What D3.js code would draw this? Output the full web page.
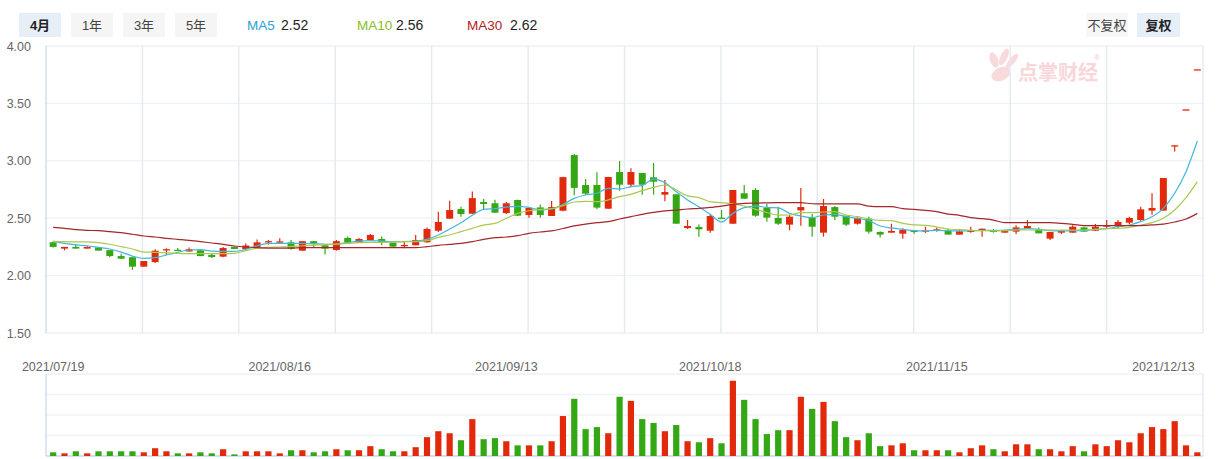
<!DOCTYPE html>
<html><head><meta charset="utf-8">
<script src="https://cdn.jsdelivr.net/npm/d3@7"></script>
<style>
body{margin:0;background:#fff;}
svg text{font-family:"Liberation Sans",Arial,"Noto Sans CJK SC",sans-serif;}
</style>
</head><body>
<svg id="chart" width="1231" height="459"></svg>
<script>
const dates = [
"2021/07/19","2021/07/20","2021/07/21","2021/07/22","2021/07/23","2021/07/26","2021/07/27","2021/07/28","2021/07/29","2021/07/30",
"2021/08/02","2021/08/03","2021/08/04","2021/08/05","2021/08/06","2021/08/09","2021/08/10","2021/08/11","2021/08/12","2021/08/13",
"2021/08/16","2021/08/17","2021/08/18","2021/08/19","2021/08/20","2021/08/23","2021/08/24","2021/08/25","2021/08/26","2021/08/27",
"2021/08/30","2021/08/31","2021/09/01","2021/09/02","2021/09/03","2021/09/06","2021/09/07","2021/09/08","2021/09/09","2021/09/10",
"2021/09/13","2021/09/14","2021/09/15","2021/09/16","2021/09/17","2021/09/22","2021/09/23","2021/09/24","2021/09/27","2021/09/28",
"2021/09/29","2021/09/30","2021/10/08","2021/10/11","2021/10/12","2021/10/13","2021/10/14","2021/10/15","2021/10/18","2021/10/19",
"2021/10/20","2021/10/21","2021/10/22","2021/10/25","2021/10/26","2021/10/27","2021/10/28","2021/10/29","2021/11/01","2021/11/02",
"2021/11/03","2021/11/04","2021/11/05","2021/11/08","2021/11/09","2021/11/10","2021/11/11","2021/11/12","2021/11/15","2021/11/16",
"2021/11/17","2021/11/18","2021/11/19","2021/11/22","2021/11/23","2021/11/24","2021/11/25","2021/11/26","2021/11/29","2021/11/30",
"2021/12/01","2021/12/02","2021/12/03","2021/12/06","2021/12/07","2021/12/08","2021/12/09","2021/12/10","2021/12/13","2021/12/14",
"2021/12/15","2021/12/16"];

const openP = [
2.29,2.235,2.25,2.235,2.245,2.222,2.17,2.16,2.078,2.118,
2.225,2.225,2.21,2.22,2.18,2.165,2.25,2.23,2.245,2.29,
2.288,2.29,2.217,2.30,2.264,2.223,2.328,2.287,2.31,2.319,
2.287,2.258,2.264,2.29,2.391,2.496,2.58,2.539,2.641,2.63,
2.545,2.659,2.528,2.594,2.519,2.565,3.05,2.789,2.789,2.583,
2.902,2.792,2.894,2.856,2.705,2.708,2.414,2.423,2.391,2.505,
2.452,2.717,2.746,2.592,2.502,2.444,2.568,2.502,2.374,2.597,
2.522,2.452,2.496,2.380,2.374,2.365,2.391,2.383,2.391,2.391,
2.357,2.383,2.397,2.397,2.374,2.383,2.409,2.403,2.322,2.374,
2.374,2.420,2.391,2.426,2.432,2.461,2.484,2.566,2.566,3.135,
3.448,3.797];
const highP = [
2.30,2.25,2.275,2.255,2.25,2.222,2.19,2.16,2.127,2.23,
2.238,2.24,2.245,2.23,2.194,2.25,2.255,2.28,2.315,2.31,
2.325,2.31,2.30,2.30,2.264,2.31,2.34,2.328,2.362,2.34,
2.287,2.296,2.354,2.42,2.557,2.652,2.60,2.733,2.668,2.66,
2.641,2.66,2.589,2.62,2.65,2.86,3.06,2.841,2.90,2.86,
2.998,2.936,2.894,2.981,2.833,2.708,2.484,2.446,2.534,2.571,
2.746,2.789,2.763,2.623,2.60,2.528,2.763,2.536,2.667,2.606,
2.522,2.513,2.513,2.386,2.452,2.412,2.397,2.426,2.420,2.409,
2.397,2.426,2.409,2.406,2.40,2.438,2.484,2.420,2.380,2.391,
2.438,2.426,2.449,2.484,2.484,2.513,2.600,2.717,2.85,3.135,
3.448,3.797];
const lowP = [
2.245,2.22,2.235,2.235,2.218,2.16,2.147,2.05,2.078,2.11,
2.18,2.22,2.21,2.17,2.153,2.16,2.232,2.23,2.245,2.27,
2.288,2.225,2.217,2.25,2.183,2.217,2.28,2.287,2.304,2.264,
2.252,2.238,2.264,2.287,2.38,2.496,2.513,2.539,2.571,2.548,
2.536,2.52,2.505,2.505,2.519,2.56,2.70,2.702,2.577,2.58,
2.739,2.769,2.705,2.705,2.647,2.452,2.406,2.339,2.374,2.496,
2.452,2.670,2.513,2.470,2.44,2.394,2.435,2.339,2.339,2.484,
2.432,2.444,2.365,2.331,2.374,2.322,2.365,2.371,2.383,2.357,
2.357,2.374,2.339,2.374,2.374,2.362,2.409,2.368,2.310,2.362,
2.374,2.383,2.391,2.412,2.412,2.449,2.478,2.531,2.566,3.082,
3.448,3.797];
const closeP = [
2.25,2.25,2.235,2.25,2.218,2.17,2.147,2.078,2.127,2.217,
2.23,2.22,2.23,2.17,2.162,2.24,2.232,2.262,2.29,2.30,
2.298,2.235,2.30,2.28,2.235,2.30,2.287,2.319,2.354,2.287,
2.252,2.267,2.31,2.406,2.467,2.571,2.536,2.675,2.624,2.548,
2.63,2.522,2.589,2.528,2.597,2.858,2.764,2.714,2.592,2.859,
2.792,2.902,2.792,2.818,2.728,2.452,2.432,2.403,2.519,2.496,
2.746,2.670,2.522,2.505,2.452,2.513,2.597,2.426,2.606,2.513,
2.444,2.502,2.383,2.357,2.389,2.397,2.383,2.394,2.403,2.357,
2.386,2.391,2.409,2.380,2.397,2.420,2.432,2.368,2.380,2.391,
2.426,2.383,2.426,2.438,2.467,2.502,2.577,2.589,2.85,3.135,
3.448,3.797];
const volume = [
0.18,0.13,0.23,0.13,0.23,0.23,0.23,0.23,0.18,0.38,
0.23,0.13,0.13,0.18,0.13,0.33,0.08,0.23,0.23,0.23,
0.13,0.28,0.28,0.18,0.23,0.33,0.28,0.28,0.48,0.33,
0.23,0.23,0.43,0.92,1.21,1.11,0.77,1.80,0.82,0.87,
0.72,0.52,0.52,0.52,0.72,1.95,2.79,1.31,1.41,1.11,
2.89,2.69,1.80,1.61,1.21,1.51,0.72,0.67,0.87,0.62,
3.67,2.74,1.80,1.07,1.26,1.26,2.89,2.30,2.64,1.70,
0.92,0.77,1.11,0.48,0.52,0.62,0.28,0.28,0.28,0.28,
0.18,0.38,0.52,0.33,0.23,0.57,0.57,0.33,0.33,0.23,
0.48,0.23,0.57,0.48,0.77,0.67,1.11,1.41,1.31,1.70,
0.52,0.18];
const ma5 = [
2.30,2.28,2.267,2.26,2.246,2.232,2.205,2.17,2.15,2.156,
2.18,2.203,2.223,2.226,2.214,2.211,2.211,2.229,2.26,2.28,
2.28,2.281,2.281,2.279,2.272,2.275,2.287,2.30,2.304,2.30,
2.296,2.296,2.30,2.316,2.354,2.406,2.461,2.525,2.577,2.583,
2.597,2.603,2.594,2.571,2.58,2.62,2.673,2.702,2.717,2.76,
2.754,2.775,2.786,2.841,2.809,2.731,2.659,2.60,2.534,2.467,
2.542,2.592,2.606,2.594,2.59,2.542,2.519,2.505,2.528,2.534,
2.513,2.499,2.479,2.432,2.415,2.403,2.391,2.389,2.394,2.391,
2.389,2.391,2.394,2.394,2.397,2.403,2.409,2.403,2.391,2.389,
2.391,2.391,2.403,2.409,2.426,2.441,2.47,2.513,2.586,2.717,
2.905,3.172];
const ma10 = [
2.296,2.296,2.293,2.293,2.287,2.273,2.252,2.232,2.205,2.203,
2.20,2.194,2.191,2.191,2.191,2.191,2.194,2.217,2.238,2.246,
2.249,2.252,2.26,2.265,2.27,2.275,2.281,2.287,2.29,2.29,
2.293,2.296,2.296,2.304,2.333,2.354,2.383,2.412,2.44,2.455,
2.499,2.542,2.565,2.577,2.583,2.61,2.641,2.647,2.644,2.659,
2.688,2.708,2.74,2.769,2.789,2.746,2.694,2.679,2.644,2.635,
2.624,2.606,2.577,2.55,2.527,2.528,2.548,2.548,2.554,2.557,
2.528,2.513,2.493,2.481,2.479,2.455,2.441,2.438,2.423,2.406,
2.40,2.394,2.391,2.39,2.392,2.397,2.397,2.397,2.397,2.397,
2.397,2.397,2.403,2.409,2.412,2.42,2.441,2.461,2.499,2.571,
2.679,2.818];
const ma30 = [
2.42,2.412,2.40,2.394,2.391,2.383,2.374,2.36,2.345,2.336,
2.325,2.316,2.307,2.296,2.284,2.272,2.258,2.249,2.243,2.24,
2.24,2.24,2.243,2.243,2.243,2.243,2.243,2.243,2.243,2.243,
2.243,2.243,2.243,2.252,2.264,2.272,2.281,2.296,2.316,2.33,
2.336,2.348,2.368,2.38,2.39,2.41,2.433,2.449,2.461,2.47,
2.493,2.513,2.534,2.551,2.563,2.571,2.58,2.586,2.594,2.606,
2.62,2.629,2.632,2.634,2.635,2.635,2.635,2.626,2.624,2.624,
2.624,2.624,2.606,2.60,2.60,2.583,2.577,2.568,2.557,2.536,
2.525,2.505,2.496,2.484,2.461,2.461,2.461,2.461,2.461,2.455,
2.447,2.435,2.435,2.435,2.435,2.435,2.435,2.441,2.449,2.467,
2.493,2.542];

const priceTicks = [1.5,2.0,2.5,3.0,3.5,4.0];
const volumeTicks = [0,1,2,3,4];
const dateTicks = ["2021/07/19","2021/08/16","2021/09/13","2021/10/18","2021/11/15","2021/12/13"];
const periodButtons = ["4月","1年","3年","5年"];
const adjustButtons = ["不复权","复权"];
const maNames = ["MA5","MA10","MA30"];
const maValues = ["2.52","2.56","2.62"];

const RED = "#e2290c", GREEN = "#34a814";
const maLineColors = ["#45b6dc","#a8c94e","#a3272b"];
const maTextColors = ["#2aa3d6","#8dbd24","#b01e24"];

const svg = d3.select("#chart");
svg.append("rect").attr("width",1231).attr("height",459).attr("fill","#fff");

const L = 46, R = 1203;
const x = d3.scaleBand().domain(dates).range([47.5, R]).paddingInner(0).paddingOuter(0);
const cx = d => x(d) + x.bandwidth()/2;
const y = d3.scaleLinear().domain([1.5, 4]).range([333, 46]);
const yv = d3.scaleLinear().domain([0, 4]).range([456, 374]);

// ---- watermark
const wm = svg.append("g").attr("fill","#f8d9dc");
wm.append("ellipse").attr("cx",994).attr("cy",60).attr("rx",4).attr("ry",8).attr("transform","rotate(-20,994,60)");
wm.append("ellipse").attr("cx",1004).attr("cy",57).attr("rx",3.5).attr("ry",9).attr("transform","rotate(25,1004,57)");
wm.append("ellipse").attr("cx",1012).attr("cy",61).attr("rx",3).attr("ry",9).attr("transform","rotate(40,1012,61)");
wm.append("ellipse").attr("cx",1001).attr("cy",74).attr("rx",10).attr("ry",6.5).attr("transform","rotate(-25,1001,74)");
wm.append("text").attr("x",1018).attr("y",80).attr("font-size",20).attr("font-weight","bold")
  .attr("font-family","'Noto Sans CJK SC',sans-serif").attr("fill","#f8d6d9").text("点掌财经");
wm.append("text").attr("x",1094).attr("y",60).attr("font-size",8).attr("fill","#f3c9cd").text("®");

// ---- grid price panel
const grid = svg.append("g");
grid.selectAll("line.h").data(priceTicks).join("line")
  .attr("x1",L).attr("x2",R).attr("y1",d=>y(d)).attr("y2",d=>y(d))
  .attr("stroke","#eef1f5").attr("stroke-width",1.3);
const vgrid = d3.range(1,13).map(k => L + k*(R-L)/12);
grid.selectAll("line.v").data(vgrid).join("line")
  .attr("x1",d=>d).attr("x2",d=>d).attr("y1",y(4)).attr("y2",y(1.5))
  .attr("stroke","#e4e9f1").attr("stroke-width",1.4);
grid.append("line").attr("x1",L).attr("x2",L).attr("y1",y(4)).attr("y2",y(1.5))
  .attr("stroke","#c8d5ea").attr("stroke-width",1.2);

// ---- volume grid
grid.selectAll("line.vh").data(volumeTicks).join("line")
  .attr("x1",L).attr("x2",R).attr("y1",d=>yv(d)).attr("y2",d=>yv(d))
  .attr("stroke",d=> d===0 ? "#c8d5ea" : "#eef1f5").attr("stroke-width",1.3);
grid.append("line").attr("x1",L).attr("x2",L).attr("y1",yv(4)).attr("y2",yv(0))
  .attr("stroke","#c8d5ea").attr("stroke-width",1.2);
grid.append("line").attr("x1",R).attr("x2",R).attr("y1",yv(4)).attr("y2",yv(0))
  .attr("stroke","#e4e9f1").attr("stroke-width",1.4);

// ---- axes
const yAxis = svg.append("g").attr("transform","translate(31,0)")
  .call(d3.axisLeft(y).tickValues(priceTicks).tickFormat(d3.format(".2f")).tickSize(0).tickPadding(0));
yAxis.select(".domain").remove();
yAxis.selectAll("text").attr("fill","#666").attr("font-size",12.5);

const xAxis = svg.append("g").attr("transform","translate(0,362)")
  .call(d3.axisBottom(x).tickValues(dateTicks).tickSize(0).tickPadding(0));
xAxis.select(".domain").remove();
xAxis.selectAll("text").attr("fill","#666").attr("font-size",12.5);

// ---- candles
const candles = dates.map((d,i)=>({d, o:openP[i], h:highP[i], l:lowP[i], c:closeP[i], v:volume[i],
  up: closeP[i] > openP[i] || (closeP[i] === openP[i] && (i===0 || closeP[i] >= closeP[i-1]))}));
const cw = 7;
const cg = svg.append("g");
cg.selectAll("line").data(candles).join("line")
  .attr("x1",d=>cx(d.d)).attr("x2",d=>cx(d.d)).attr("y1",d=>y(d.h)).attr("y2",d=>y(d.l))
  .attr("stroke",d=>d.up?RED:GREEN).attr("stroke-width",1.2);
cg.selectAll("rect").data(candles).join("rect")
  .attr("x",d=>cx(d.d)-cw/2).attr("width",cw)
  .attr("y",d=>y(Math.max(d.o,d.c)))
  .attr("height",d=>Math.max(1.3, Math.abs(y(d.o)-y(d.c))))
  .attr("fill",d=>d.up?RED:GREEN);

// ---- MA lines
const line = d3.line().x((v,i)=>cx(dates[i])).y(v=>y(v)).curve(d3.curveMonotoneX);
[ma5, ma10, ma30].forEach((arr,k)=>{
  svg.append("path").attr("d", line(arr)).attr("fill","none")
    .attr("stroke", maLineColors[k]).attr("stroke-width",1.2);
});

// ---- volume bars
const vw = 6.2;
svg.append("g").selectAll("rect").data(candles).join("rect")
  .attr("x",d=>cx(d.d)-vw/2).attr("width",vw)
  .attr("y",d=>yv(d.v)).attr("height",d=>yv(0)-yv(d.v))
  .attr("fill",d=>d.up?RED:GREEN);

// ---- top bar
const btnX = [19,71,123,175];
const tb = svg.append("g");
periodButtons.forEach((t,i)=>{
  tb.append("rect").attr("x",btnX[i]).attr("y",13).attr("width",42).attr("height",24)
    .attr("fill", i===0 ? "#e6eef8" : "#f5f5f5");
  tb.append("text").attr("x",btnX[i]+21).attr("y",29.5).attr("text-anchor","middle")
    .attr("font-size",13).attr("fill", i===0 ? "#222" : "#444")
    .attr("font-weight", i===0 ? "bold" : "normal")
    .attr("font-family","'Noto Sans CJK SC',sans-serif").text(t);
});
const legX = [247,357,467], legVX = [281,396,510];
maNames.forEach((n,i)=>{
  tb.append("text").attr("x",legX[i]).attr("y",30).attr("font-size",13.5).attr("fill",maTextColors[i]).text(n);
  tb.append("text").attr("x",legVX[i]).attr("y",30).attr("font-size",14).attr("fill","#222").text(maValues[i]);
});
const adjX = [1086,1137], adjW = [42,43];
adjustButtons.forEach((t,i)=>{
  tb.append("rect").attr("x",adjX[i]).attr("y",13).attr("width",adjW[i]).attr("height",24)
    .attr("fill", i===1 ? "#e6eef8" : "#f7f7f7");
  tb.append("text").attr("x",adjX[i]+adjW[i]/2).attr("y",29.5).attr("text-anchor","middle")
    .attr("font-size",13).attr("fill", i===1 ? "#222" : "#444")
    .attr("font-weight", i===1 ? "bold" : "normal")
    .attr("font-family","'Noto Sans CJK SC',sans-serif").text(t);
});
</script>
</body></html>
